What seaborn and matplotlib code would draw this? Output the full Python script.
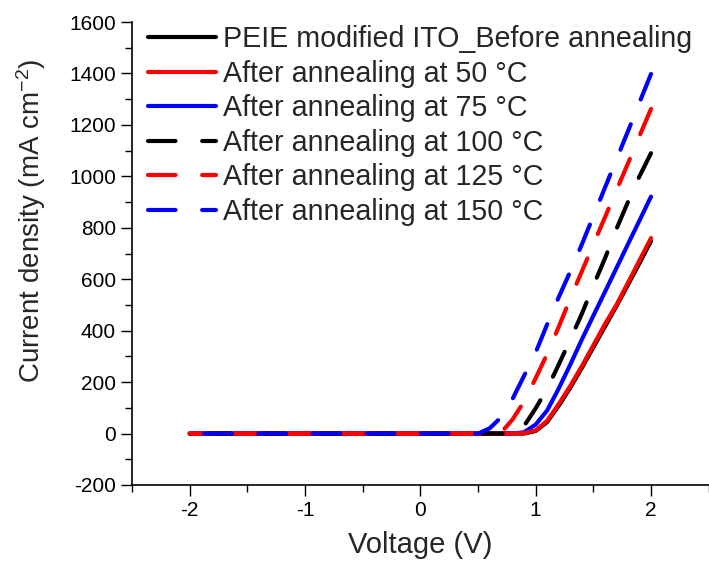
import numpy as np
import pandas as pd
import matplotlib
matplotlib.use("Agg")
import matplotlib.pyplot as plt
from matplotlib.ticker import MultipleLocator
import seaborn as sns

voltage = [-2.0, 0.4, 0.5, 0.6, 0.7, 0.8, 0.9, 1.0, 1.1, 1.2, 1.3, 1.4, 1.5, 1.6, 1.7, 1.8, 1.9, 2.0]

j_before = [0, 0, 0, 0, 0, 0, 0, 10, 45, 108, 178, 255, 335, 415, 495, 578, 662, 748]
j_50 = [0, 0, 0, 0, 0, 0, 1, 12, 50, 115, 185, 262, 343, 425, 500, 586, 673, 760]
j_75 = [0, 0, 0, 0, 0, 0, 5, 35, 90, 175, 268, 365, 458, 550, 643, 736, 828, 921]
j_100 = [0, 0, 0, 0, 0, 0, 30, 98, 175, 268, 365, 465, 575, 680, 795, 900, 1000, 1090]
j_125 = [0, 0, 0, 0, 3, 55, 125, 215, 310, 415, 525, 630, 735, 840, 945, 1050, 1157, 1262]
j_150 = [0, 0, 0, 20, 63, 135, 225, 315, 425, 530, 630, 735, 845, 955, 1065, 1175, 1287, 1398]

labels = ["PEIE modified ITO_Before annealing",
          "After annealing at 50 \u00b0C",
          "After annealing at 75 \u00b0C",
          "After annealing at 100 \u00b0C",
          "After annealing at 125 \u00b0C",
          "After annealing at 150 \u00b0C"]
series = [j_before, j_50, j_75, j_100, j_125, j_150]
colors = ["black", "red", "blue", "black", "red", "blue"]
styles = ["-", "-", "-", "--", "--", "--"]
zorders = [2.0, 2.2, 2.1, 2.3, 2.4, 2.5]

sns.set_theme(style="ticks")
plt.rcParams["font.family"] = ["Liberation Sans", "DejaVu Sans"]
plt.rcParams["mathtext.fontset"] = "custom"
plt.rcParams["mathtext.rm"] = "Liberation Sans"
plt.rcParams["mathtext.it"] = "Liberation Sans"
plt.rcParams["axes.unicode_minus"] = False

fig = plt.figure(figsize=(7.09, 5.65), dpi=100)
ax = fig.add_axes([0.1862, 0.1416, 0.8133, 0.8194])

for lab, ys, c, ls, z in zip(labels, series, colors, styles, zorders):
    # sweep recorded from +2 V down to -2 V
    df = pd.DataFrame({"V": voltage[::-1], "J": ys[::-1]})
    kw = dict(lw=3, solid_capstyle="round", dash_capstyle="round", zorder=z)
    if ls == "--":
        kw["linestyle"] = (0, (6.6, 6.4))
    else:
        kw["linestyle"] = "-"
    sns.lineplot(data=df, x="V", y="J", ax=ax, color=c, label=lab, sort=False, **kw)

ax.set_xlim(-2.5, 2.5)
ax.set_ylim(-200, 1600)
ax.xaxis.set_major_locator(MultipleLocator(1))
ax.xaxis.set_minor_locator(MultipleLocator(0.5))
ax.yaxis.set_major_locator(MultipleLocator(200))
ax.yaxis.set_minor_locator(MultipleLocator(100))
ax.tick_params(which="major", direction="out", length=8, width=1, labelsize=15, colors="black")
ax.tick_params(which="minor", direction="out", length=5, width=1, colors="black")
for sp in ["top", "right"]:
    ax.spines[sp].set_visible(False)
for sp in ["left", "bottom"]:
    ax.spines[sp].set_linewidth(1.2)
    ax.spines[sp].set_color("black")

ax.set_xlabel("Voltage (V)", fontsize=21, labelpad=8)
ax.set_ylabel("Current density (mA cm$^{-2}$)", fontsize=20)
ax.yaxis.set_label_coords(-0.146, 0.571)

leg = ax.legend(loc="upper left", bbox_to_anchor=(0.027, 0.9935), frameon=False,
                fontsize=20.6, handlelength=2.4, handletextpad=0.25,
                labelspacing=0.23, borderpad=0, borderaxespad=0)

fig.savefig("out.png", dpi=100)
